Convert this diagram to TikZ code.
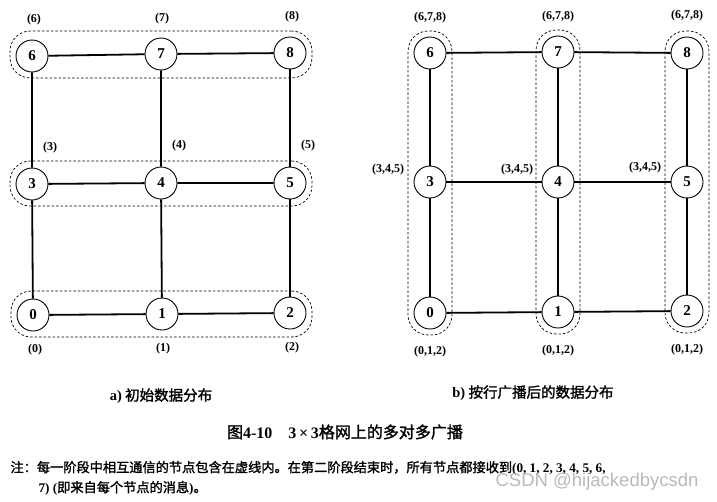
\documentclass[tikz,border=0pt]{standalone}
\usepackage{fontspec}
\setmainfont{Liberation Serif}
\setsansfont{Liberation Sans}
\newfontfamily\cjk[AutoFakeBold=1.6]{Noto Sans CJK SC}
\usetikzlibrary{fit}

\begin{document}
\begin{tikzpicture}[x=1pt,y=-1pt,
  vtx/.style={draw,circle,line width=0.9pt,minimum size=32pt,inner sep=0pt,
    font=\fontsize{15}{15}\selectfont\bfseries},
  lnk/.style={line width=1.8pt},
  grp/.style={draw,dash pattern=on 2.5pt off 2pt,line width=0.7pt,
    rounded corners=20pt,inner sep=5.5pt},
  lbl/.style={font=\fontsize{12}{12}\selectfont\bfseries},
  captxt/.style={font=\fontsize{14.5}{14.5}\selectfont\cjk\bfseries}]
  \useasboundingbox (0,0) rectangle (717,501);

  % a) initial distribution: 3x3 mesh, rows grouped
  \foreach \n/\x/\y in {0/33/315,1/162/314,2/290/313,3/32/184,4/161/183,
                        5/290/183,6/32/56,7/161/54,8/290/53}
    \node[vtx] (a\n) at (\x,\y) {\n};
  \draw[lnk] (a0) -- (a1) -- (a2);
  \draw[lnk] (a3) -- (a4) -- (a5);
  \draw[lnk] (a6) -- (a7) -- (a8);
  \draw[lnk] (a0) -- (a3) -- (a6);
  \draw[lnk] (a1) -- (a4) -- (a7);
  \draw[lnk] (a2) -- (a5) -- (a8);
  \node[grp,fit=(a0)(a1)(a2)] (ra) {};
  \node[grp,fit=(a3)(a4)(a5)] (rb) {};
  \node[grp,fit=(a6)(a7)(a8)] (rc) {};
  \foreach \n/\x/\y in {0/35/350,1/163/349,2/292/348,3/50/148,4/179/146,
                        5/308/146,6/34/20,7/162/19,8/292/17}
    \node[lbl] at (\x,\y) {(\n)};

  % b) after row broadcast: columns grouped
  \foreach \n/\x/\y in {0/430/313,1/558/312,2/687/311,3/430/182,4/558/182,
                        5/687/182,6/430/53,7/558/52,8/687/53}
    \node[vtx] (b\n) at (\x,\y) {\n};
  \node[grp,fit=(b0)(b3)(b6)] (ca) {};
  \node[grp,fit=(b1)(b4)(b7)] (cb) {};
  \node[grp,fit=(b2)(b5)(b8)] (cc) {};
  \draw[lnk] (b0) -- (b1) -- (b2);
  \draw[lnk] (b3) -- (b4) -- (b5);
  \draw[lnk] (b6) -- (b7) -- (b8);
  \draw[lnk] (b0) -- (b3) -- (b6);
  \draw[lnk] (b1) -- (b4) -- (b7);
  \draw[lnk] (b2) -- (b5) -- (b8);
  \foreach \x/\y in {430/18,558/17,687/16}
    \node[lbl] at (\x,\y) {(6,7,8)};
  \foreach \x/\y in {388/170,517/170,645/168}
    \node[lbl] at (\x,\y) {(3,4,5)};
  \foreach \x/\y in {430/352,558/351,687/350}
    \node[lbl] at (\x,\y) {(0,1,2)};

  % captions
  \node[captxt] (capa) at (161,396) {{\rmfamily\bfseries a)} 初始数据分布};
  \node[captxt] (capb) at (533,393) {{\rmfamily\bfseries b)} 按行广播后的数据分布};
  \node[captxt,font=\fontsize{16}{16}\selectfont\cjk\bfseries] (fig) at (345,432)
    {图{\rmfamily\bfseries 4-10\quad 3\,×\,3}格网上的多对多广播};
  \node[captxt,font=\fontsize{13.2}{13.2}\selectfont\cjk\bfseries,anchor=west] (note1) at (7,468)
    {注：每一阶段中相互通信的节点包含在虚线内。在第二阶段结束时，所有节点都接收到{\rmfamily (0, 1, 2, 3, 4, 5, 6,}};
  \node[captxt,font=\fontsize{13.2}{13.2}\selectfont\cjk\bfseries,anchor=west] (note2) at (35,488)
    {{\rmfamily 7) (}即来自每个节点的消息{\rmfamily )}。};
  \node[anchor=east,text=gray!55,font=\fontsize{18.5}{18.5}\selectfont\sffamily] (wm) at (702,482)
    {CSDN @hijackedbycsdn};
\end{tikzpicture}
\end{document}
